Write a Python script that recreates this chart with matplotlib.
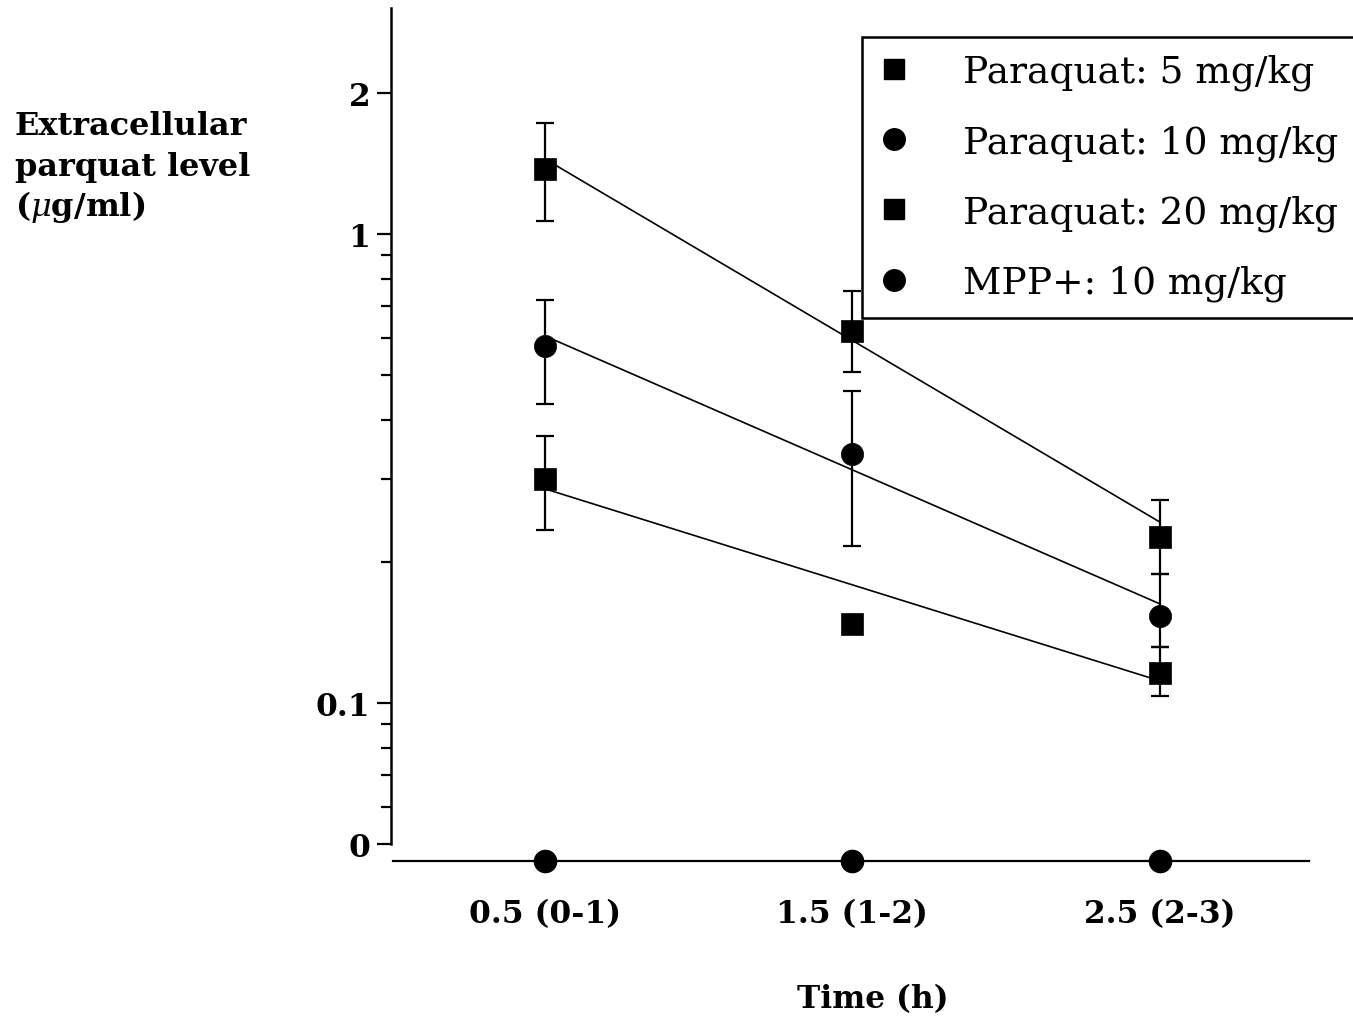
import matplotlib
matplotlib.use('Agg')
import matplotlib.pyplot as plt
from matplotlib.lines import Line2D
from matplotlib.ticker import FixedLocator, FixedFormatter, NullFormatter
import numpy as np

# ---------------- data ----------------
times = [0.5, 1.5, 2.5]
time_labels = ["0.5 (0-1)", "1.5 (1-2)", "2.5 (2-3)"]

pq5_mean = [0.300, 0.147, 0.116]
pq5_low = [0.234, np.nan, 0.1035]
pq5_high = [0.371, np.nan, 0.1316]

pq10_mean = [0.577, 0.340, 0.153]
pq10_low = [0.434, 0.216, 0.1316]
pq10_high = [0.723, 0.463, 0.188]

pq20_mean = [1.376, 0.621, 0.226]
pq20_low = [1.066, 0.508, 0.188]
pq20_high = [1.724, 0.756, 0.271]

mpp10_mean = [0.0, 0.0, 0.0]

fit_x = [0.5, 2.5]
fit5 = [0.286, 0.1114]
fit10 = [0.606, 0.1626]
fit20 = [1.445, 0.243]

y_floor = 0.046          # where "0" sits on the log axis (x-axis line)
ytick_vals = [0.05, 0.1, 1, 2]
ytick_labels = ["0", "0.1", "1", "2"]
yminor_vals = [0.06, 0.07, 0.08, 0.09, 0.2, 0.3, 0.4, 0.5, 0.6, 0.7, 0.8, 0.9]

legend_labels = ["Paraquat: 5 mg/kg", "Paraquat: 10 mg/kg",
                 "Paraquat: 20 mg/kg", "MPP+: 10 mg/kg"]

# ---------------- figure ----------------
plt.rcParams['font.family'] = ['DejaVu Serif']
plt.rcParams['mathtext.fontset'] = 'dejavuserif'

W, H = 1353, 1020
fig = plt.figure(figsize=(W / 100, H / 100), dpi=100)
ax = fig.add_axes([391 / W, 1 - 862 / H, 922.5 / W, (862 - 9) / H])
ax.set_yscale('log')
ax.set_xlim(0, 3)
ax.set_ylim(y_floor, 3.03)


def draw_series(mean, low, high, marker, ms):
    mean = np.array(mean, float)
    low = np.array(low, float)
    high = np.array(high, float)
    x = np.array(times, float)
    ok = ~np.isnan(low)
    ax.errorbar(x[ok], mean[ok], yerr=[mean[ok] - low[ok], high[ok] - mean[ok]],
                fmt='none', ecolor='black', elinewidth=1.6, capsize=6.5,
                capthick=1.6, zorder=3)
    ax.plot(x, mean, ls='none', marker=marker, ms=ms, color='black',
            mec='black', mew=0.5, zorder=4)


ax.plot(fit_x, fit5, color='black', lw=1.2, zorder=2)
ax.plot(fit_x, fit10, color='black', lw=1.2, zorder=2)
ax.plot(fit_x, fit20, color='black', lw=1.2, zorder=2)

draw_series(pq5_mean, pq5_low, pq5_high, 's', 16.5)
draw_series(pq10_mean, pq10_low, pq10_high, 'o', 16)
draw_series(pq20_mean, pq20_low, pq20_high, 's', 16.5)

mpp_plot = [v if v > 0 else y_floor for v in mpp10_mean]
ax.plot(times, mpp_plot, ls='none', marker='o', ms=16, color='black',
        clip_on=False, zorder=5)

# ---------------- axes styling ----------------
for s in ['top', 'right']:
    ax.spines[s].set_visible(False)
ax.spines['left'].set_bounds(0.05, 3.03)
ax.spines['left'].set_linewidth(1.8)
ax.spines['bottom'].set_linewidth(1.6)
ax.spines['bottom'].set_bounds(0.005, 2.985)

ax.yaxis.set_major_locator(FixedLocator(ytick_vals))
ax.yaxis.set_major_formatter(FixedFormatter(ytick_labels))
ax.yaxis.set_minor_locator(FixedLocator(yminor_vals))
ax.yaxis.set_minor_formatter(NullFormatter())
ax.tick_params(axis='y', which='major', length=10, width=1.6, pad=5,
               labelsize=22.5)
ax.tick_params(axis='y', which='minor', length=7, width=1.6)
for lab in ax.get_yticklabels():
    lab.set_fontweight('bold')

ax.set_xticks(times)
ax.set_xticklabels(time_labels)
ax.tick_params(axis='x', which='both', length=0, pad=27, labelsize=22.5)
for lab in ax.get_xticklabels():
    lab.set_fontweight('bold')

# axis titles
fig.text(873 / W, 1 - 1000 / H, "Time (h)", ha='center', va='center',
         fontsize=22.5, fontweight='bold')
fig.text(15 / W, 1 - 135 / H, "Extracellular", ha='left', va='baseline',
         fontsize=23, fontweight='bold')
fig.text(15 / W, 1 - 176 / H, "parquat level", ha='left', va='baseline',
         fontsize=23, fontweight='bold')
fig.text(15 / W, 1 - 216 / H, r"($\mu$g/ml)", ha='left', va='baseline',
         fontsize=23, fontweight='bold')

# ---------------- legend ----------------
handles = [
    Line2D([], [], ls='none', marker='s', ms=14.5, color='black'),
    Line2D([], [], ls='none', marker='o', ms=15.5, color='black'),
    Line2D([], [], ls='none', marker='s', ms=14.5, color='black'),
    Line2D([], [], ls='none', marker='o', ms=15.5, color='black'),
]
leg = ax.legend(handles, legend_labels, loc='upper left',
                bbox_to_anchor=(862 / W, 1 - 38 / H),
                bbox_transform=fig.transFigure, borderaxespad=0,
                frameon=True, fancybox=False, edgecolor='black',
                framealpha=1, fontsize=27, handlelength=0.8,
                handletextpad=1.45, labelspacing=0.9, borderpad=0.45)
leg.get_frame().set_linewidth(1.8)

fig.savefig('out.png', dpi=100)
